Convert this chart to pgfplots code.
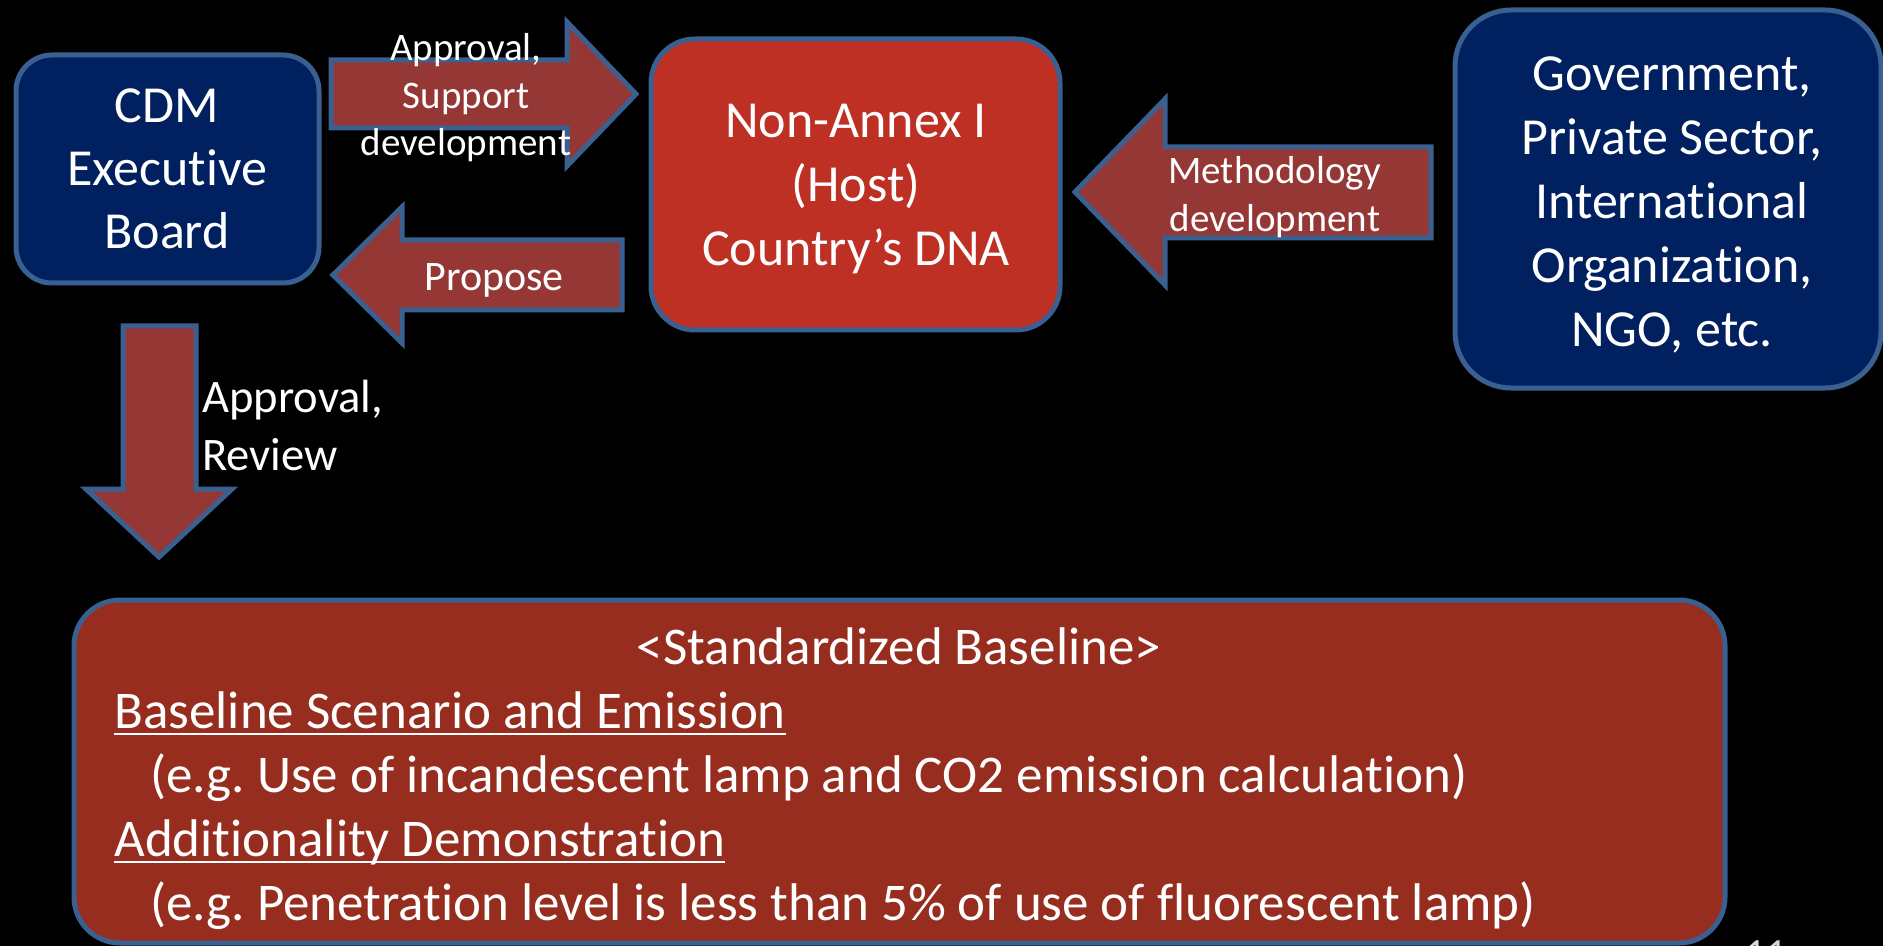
\documentclass[border=0pt]{standalone}
\usepackage{pgfplots}
\pgfplotsset{compat=1.18}
\usepackage{fontspec}
\setmainfont{Carlito}[Ligatures={NoCommon,NoContextual}]
\frenchspacing
\definecolor{navy}{RGB}{0,32,96}
\definecolor{bord}{RGB}{58,96,145}
\definecolor{arrowred}{RGB}{149,55,53}
\definecolor{hostred}{RGB}{190,48,36}
\definecolor{basered}{RGB}{150,45,30}
\newlength{\ulw}
\newcommand{\ul}[1]{\settowidth{\ulw}{#1}\rlap{\rule[-3.7pt]{\ulw}{1.4pt}}#1}
\tikzset{
  big/.style={font=\fontsize{26}{32}\selectfont, text=white, inner sep=0pt, anchor=base},
  bot/.style={font=\fontsize{26.5}{32}\selectfont, text=white, inner sep=0pt, anchor=base west},
  arr/.style={font=\fontsize{19.5}{23.5}\selectfont, text=white, inner sep=0pt, anchor=base},
}
\begin{document}
\begin{tikzpicture}
\begin{axis}[
  hide axis, scale only axis,
  width=941.5pt, height=473pt,
  xmin=0, xmax=1883, ymin=0, ymax=946,
  y dir=reverse, clip=true,
]
% background
\addplot[fill=black, draw=none] coordinates {(0,0) (1883,0) (1883,946) (0,946)} -- cycle;

% boxes
\draw[fill=navy, draw=bord, line width=2.5pt, rounded corners=18pt] (16,55) rectangle (319,283);
\draw[fill=hostred, draw=bord, line width=2.5pt, rounded corners=22pt] (651,39) rectangle (1060,330);
\draw[fill=navy, draw=bord, line width=2.5pt, rounded corners=28pt] (1455,10) rectangle (1881,388);
\draw[fill=basered, draw=bord, line width=2.5pt, rounded corners=23pt] (74,600) rectangle (1725,943);

% arrows
\addplot[fill=arrowred, draw=bord, line width=2.5pt, line join=miter] coordinates
  {(331,60) (567,60) (567,22) (636,94) (567,166) (567,128) (331,128)} -- cycle;
\addplot[fill=arrowred, draw=bord, line width=2.5pt, line join=miter] coordinates
  {(622,240) (402,240) (402,207) (333,275) (402,343) (402,310) (622,310)} -- cycle;
\addplot[fill=arrowred, draw=bord, line width=2.5pt, line join=miter] coordinates
  {(1431,147) (1165,147) (1165,99) (1075,192) (1165,285) (1165,238) (1431,238)} -- cycle;
\addplot[fill=arrowred, draw=bord, line width=2.5pt, line join=miter] coordinates
  {(123,326) (196,326) (196,489) (232,489) (159,557) (86,489) (123,489)} -- cycle;

% CDM box
\node[big] at (167,123) {CDM};
\node[big] at (167,186) {Executive};
\node[big] at (167,249) {Board};
% Host box
\node[big] at (856,138) {Non-Annex I};
\node[big] at (856,202) {(Host)};
\node[big] at (856,266) {Country’s DNA};
% Government box
\node[big] at (1672,91) {Government,};
\node[big] at (1672,155) {Private Sector,};
\node[big] at (1672,219) {International};
\node[big] at (1672,283) {Organization,};
\node[big] at (1672,347) {NGO, etc.};

% arrow labels
\node[arr] at (466,61) {Approval,};
\node[arr] at (466,109) {Support};
\node[arr] at (466,156) {development};
\node[arr, font=\fontsize{21}{25}\selectfont] at (494,291) {Propose};
\node[arr] at (1275,184) {Methodology};
\node[arr] at (1275,232) {development};
\node[arr, anchor=base west, font=\fontsize{23.3}{28.5}\selectfont] at (202,412) {Approval,};
\node[arr, anchor=base west, font=\fontsize{23.3}{28.5}\selectfont] at (202,470) {Review};

% bottom box
\node[bot, anchor=base] at (899,664) {<Standardized Baseline>};
\node[bot] at (114,728) {\ul{Baseline Scenario and Emission}};
\node[bot] at (150,792) {(e.g. Use of incandescent lamp and CO2 emission calculation)};
\node[bot] at (114,856) {\ul{Additionality Demonstration}};
\node[bot] at (150,920) {(e.g. Penetration level is less than 5\% of use of fluorescent lamp)};

% page number (cut off at the bottom edge, as in the reference)
\node[font=\fontsize{20}{24}\selectfont, text=white!85!black, inner sep=0pt, anchor=north] at (1766,940) {11};
\end{axis}
\pgfresetboundingbox
\useasboundingbox (current axis.south west) rectangle (current axis.north east);
\end{tikzpicture}
\end{document}
